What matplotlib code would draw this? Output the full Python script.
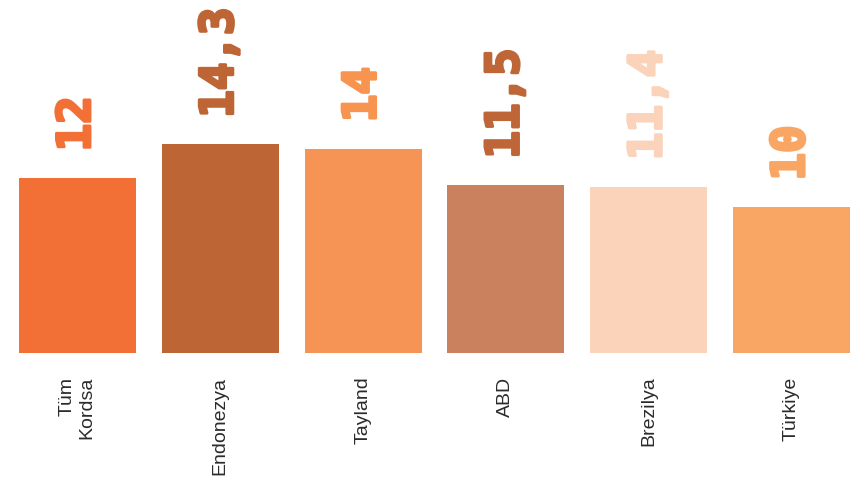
import matplotlib
matplotlib.use("Agg")
import matplotlib.pyplot as plt
import matplotlib.patheffects as pe

categories = ["Tüm\nKordsa", "Endonezya", "Tayland", "ABD", "Brezilya", "Türkiye"]
values = [12, 14.3, 14, 11.5, 11.4, 10]
value_labels = ["12", "14,3", "14", "11,5", "11,4", "10"]
colors = ["#F27036", "#BD6535", "#F59455", "#C9825D", "#FAD3BA", "#F9A664"]
label_colors = ["#F27036", "#BD6535", "#F79450", "#BE6637", "#FAD3BA", "#F9A664"]

W, H = 856, 478
fig = plt.figure(figsize=(W / 100, H / 100), dpi=100)
ax = fig.add_axes([19 / W, (H - 353) / H, 831 / W, 353 / H])

x = list(range(len(categories)))
bw = 0.818
ax.bar(x, values, width=bw, color=colors)
ax.set_xlim(-bw / 2, len(categories) - 1 + bw / 2)
ax.set_ylim(0, 353 / 14.6)

for xi, v, lab, c in zip(x, values, value_labels, label_colors):
    ax.annotate(lab, (xi, v), xytext=(0, 19), textcoords="offset points",
                ha="center", va="bottom", rotation=90, color=c,
                fontsize=33, fontweight="bold", family="DejaVu Sans Mono",
                path_effects=[pe.withStroke(linewidth=2.2, foreground=c)])

ax.set_xticks(x)
ax.set_xticklabels(categories, rotation=90, fontsize=14, color="#2b2b2b",
                   family="Liberation Sans", va="top", ha="center",
                   multialignment="right")
ax.tick_params(axis="x", length=0, pad=17)
ax.tick_params(axis="y", left=False, labelleft=False)
for s in ax.spines.values():
    s.set_visible(False)

fig.savefig("out.png", dpi=100)
